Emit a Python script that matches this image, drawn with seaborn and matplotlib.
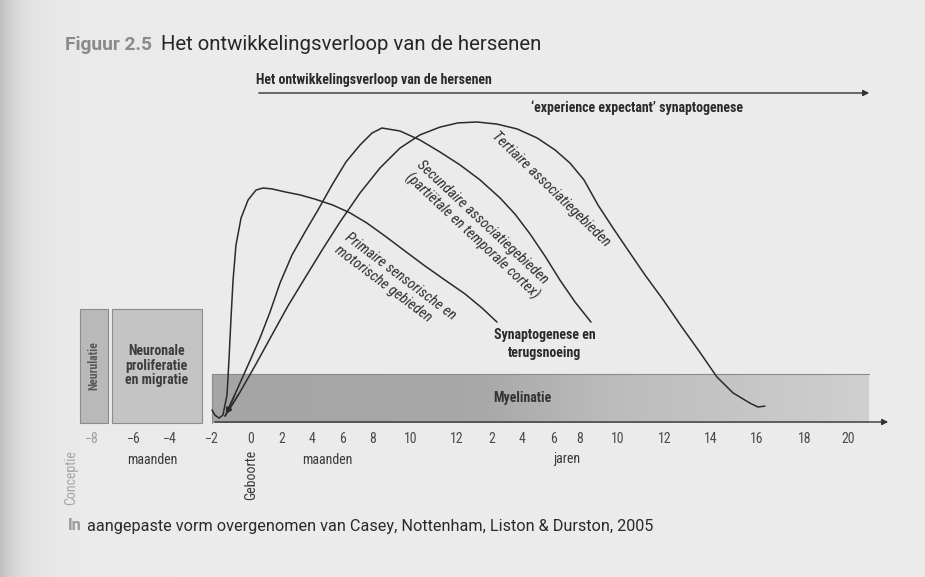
import numpy as np
import pandas as pd
import matplotlib
matplotlib.use('Agg')
import matplotlib.pyplot as plt
import seaborn as sns
from matplotlib import font_manager
from matplotlib.colors import LinearSegmentedColormap
from matplotlib.patches import Rectangle

# ---- data: age in months relative to birth, synapse level as drawn (0-100) ----
TICK_MONTHS = [-8, -6, -4, -2, 0, 2, 4, 6, 8, 10, 12, 24, 48, 72, 96, 120, 144, 168, 192, 216, 240]
TICK_LABELS = ['−8', '−6', '−4', '−2', '0', '2', '4', '6', '8', '10', '12',
               '2', '4', '6', '8', '10', '12', '14', '16', '18', '20']

PRIMARY_MONTHS = [-2.0, -1.85, -1.64, -1.44, -1.23, -1.13, -1.03, -0.92, -0.77, -0.51, -0.15,
                  0.32, 0.77, 1.35, 2.2, 3.2, 4.19, 5.35, 6.47, 7.6, 8.63, 9.68, 10.61, 11.48,
                  14.74, 20.57, 28.0]
PRIMARY_LEVEL = [3.0, 1.3, 0.3, 1.3, 8.0, 19.7, 33.0, 46.3, 58.0, 67.0, 73.0,
                 76.3, 77.0, 76.7, 75.7, 74.7, 73.3, 71.3, 68.7, 65.3, 61.0, 56.0, 51.0, 46.3,
                 41.7, 37.0, 32.3]

SECONDARY_MONTHS = [-1.33, -0.77, -0.15, 0.58, 1.23, 1.87, 2.67, 3.53, 4.39, 5.29, 6.2, 7.13,
                    7.93, 8.47, 9.42, 10.39, 11.26, 13.03, 19.89, 30.4, 42.4, 54.0, 65.25,
                    77.5, 91.4, 102.95]
SECONDARY_LEVEL = [1.0, 9.0, 18.0, 27.0, 35.7, 45.3, 54.7, 62.3, 69.7, 78.0, 85.7, 91.3,
                   95.3, 97.0, 96.0, 93.0, 89.0, 84.7, 79.7, 73.7, 68.3, 61.7, 54.3,
                   46.3, 39.0, 32.3]

TERTIARY_MONTHS = [-1.33, -0.56, 0.32, 1.35, 2.4, 3.53, 4.65, 5.81, 7.13, 8.37, 9.42, 10.39,
                   11.26, 12.34, 18.86, 28.0, 44.0, 59.25, 72.9, 86.8, 98.5, 107.4, 116.8,
                   125.1, 133.8, 143.1, 152.4, 161.7, 171.1, 179.5, 188.3, 192.5, 196.0]
TERTIARY_LEVEL = [1.0, 9.0, 18.3, 28.0, 37.7, 47.0, 56.3, 65.7, 75.3, 83.7, 90.3, 94.7,
                  97.3, 98.7, 99.0, 98.3, 96.7, 93.7, 89.7, 85.3, 79.7, 71.3, 63.7,
                  56.3, 48.0, 39.7, 31.0, 22.7, 14.0, 8.7, 5.3, 4.0, 4.3]

PHASE_NAMES = ['Neurulatie', 'Neuronale\nproliferatie\nen migratie', 'Myelinatie']
PHASE_START = [-8.57, -7.05, -2.0]
PHASE_END = [-7.24, -2.48, 252.0]
PHASE_TOP = [36.7, 36.7, 15.0]

# ---- layout: the drawn time axis is not to scale ----
AXIS_MONTHS = [-10] + TICK_MONTHS + [264]
AXIS_POS = [50, 92, 134, 170, 212, 251, 282, 312, 343, 373, 411, 457, 492, 522, 554, 580,
            618, 665, 711, 757, 805, 848, 891]
W, H = 925, 577


def forward(x):
    return np.interp(x, AXIS_MONTHS, AXIS_POS)


def inverse(x):
    return np.interp(x, AXIS_POS, AXIS_MONTHS)


sns.set_style('white')
available = {f.name for f in font_manager.fontManager.ttflist}
NARROW = next((f for f in ['Liberation Sans Narrow', 'Roboto Condensed', 'Roboto'] if f in available), 'DejaVu Sans')
REGULAR = 'Roboto' if 'Roboto' in available else 'DejaVu Sans'
plt.rcParams['font.family'] = [NARROW, 'DejaVu Sans']

fig = plt.figure(figsize=(W / 100, H / 100), dpi=100)
fig.patch.set_facecolor('#e9e9e9')

# page (scan) background
page = fig.add_axes([0, 0, 1, 1])
page.set_xlim(0, W)
page.set_ylim(H, 0)
page.axis('off')
shade = 0.918 - 0.17 * np.exp(-np.arange(W) / 20.0)
page.imshow(np.tile(shade, (10, 1)), cmap='gray', vmin=0, vmax=1, extent=(0, W, H, 0),
            aspect='auto', zorder=0)

page.text(65, 45, 'Figuur 2.5', family=REGULAR, fontweight='bold', color='#8a8a8a',
          fontsize=13.8, va='center')
page.text(161, 45, 'Het ontwikkelingsverloop van de hersenen', family=REGULAR,
          color='#262626', fontsize=14.7, va='center')
page.text(256, 80, 'Het ontwikkelingsverloop van de hersenen', fontweight='bold',
          color='#2a2a2a', fontsize=10, va='center')
page.annotate('', xy=(872, 93), xytext=(256, 93),
              arrowprops=dict(arrowstyle='-|>', lw=1.0, color='#333333', mutation_scale=9))
page.text(637, 108, '‘experience expectant’ synaptogenese', fontweight='bold',
          color='#2a2a2a', fontsize=10, va='center', ha='center')
page.text(68, 526, 'In', family=REGULAR, fontweight='bold', color='#9a9a9a',
          fontsize=11.7, va='center')
page.text(87, 526, 'aangepaste vorm overgenomen van Casey, Nottenham, Liston & Durston, 2005',
          family=REGULAR, color='#2a2a2a', fontsize=11.7, va='center')

# data axes
y_lo, y_hi = -3, 100
ax = fig.add_axes([AXIS_POS[0] / W, (H - 428) / H, (AXIS_POS[-1] - AXIS_POS[0]) / W, 309 / H])
ax.patch.set_alpha(0)
ax.set_xscale('function', functions=(forward, inverse))

bottom = -1.3
box_colors = ['#b9b9b9', '#c4c4c4']
for i in range(2):
    ax.add_patch(Rectangle((PHASE_START[i], bottom), PHASE_END[i] - PHASE_START[i],
                           PHASE_TOP[i] - bottom, facecolor=box_colors[i],
                           edgecolor='#8c8c8c', lw=0.8, zorder=1, clip_on=False))
ax.text((PHASE_START[0] + PHASE_END[0]) / 2, (PHASE_TOP[0] + bottom) / 2, PHASE_NAMES[0],
        rotation=90, ha='center', va='center', fontweight='bold', color='#5a5a5a',
        fontsize=8.5, zorder=3)
ax.text((PHASE_START[1] + PHASE_END[1]) / 2, (PHASE_TOP[1] + bottom) / 2, PHASE_NAMES[1],
        ha='center', va='center', fontweight='bold', color='#3c3c3c', fontsize=10,
        linespacing=1.05, zorder=3)

myel = LinearSegmentedColormap.from_list('myel', ['#a5a5a5', '#bdbdbd', '#d0d0d0'])
ax.imshow(np.linspace(0, 1, 256)[None, :], cmap=myel, aspect='auto', interpolation='bilinear',
          extent=(PHASE_START[2], PHASE_END[2], bottom, PHASE_TOP[2]), zorder=1)
ax.plot([PHASE_START[2], PHASE_END[2]], [PHASE_TOP[2], PHASE_TOP[2]], color='#8c8c8c', lw=0.8, zorder=1)
ax.plot([PHASE_START[2], PHASE_START[2]], [bottom, PHASE_TOP[2]], color='#8c8c8c', lw=0.8, zorder=1)
ax.text(48, (PHASE_TOP[2] + bottom) / 2, PHASE_NAMES[2], ha='center', va='center',
        fontweight='bold', color='#333333', fontsize=10, zorder=3)

# synaptogenesis curves
df = pd.concat([
    pd.DataFrame({'months': PRIMARY_MONTHS, 'level': PRIMARY_LEVEL, 'area': 'primair'}),
    pd.DataFrame({'months': SECONDARY_MONTHS, 'level': SECONDARY_LEVEL, 'area': 'secundair'}),
    pd.DataFrame({'months': TERTIARY_MONTHS, 'level': TERTIARY_LEVEL, 'area': 'tertiair'}),
], ignore_index=True)
sns.lineplot(data=df, x='months', y='level', hue='area', estimator=None, sort=False,
             palette=['#2b2b2b'] * 3, linewidth=1.1, legend=False, ax=ax, zorder=4)
for m, lv in [(SECONDARY_MONTHS, SECONDARY_LEVEL), (TERTIARY_MONTHS, TERTIARY_LEVEL)]:
    ax.annotate('', xy=(m[0], lv[0]), xytext=(m[1], lv[1]), annotation_clip=False,
                arrowprops=dict(arrowstyle='-|>', lw=1.0, color='#2b2b2b', mutation_scale=8))

lab = dict(ha='center', va='center', style='italic', color='#2e2e2e', fontsize=10.5,
           rotation_mode='anchor', multialignment='left', zorder=5)
ax.text(9.16, 45.3, 'Primaire sensorische en\nmotorische gebieden', rotation=-37, **lab)
ax.text(19.2, 63.0, 'Secundaire associatiegebieden\n(partiëtale en temporale cortex)', rotation=-43, **lab)
ax.text(69.75, 76.7, 'Tertiaire associatiegebieden', rotation=-44, **lab)
ax.text(65.25, 25.0, 'Synaptogenese en\nterugsnoeing', ha='center', va='center',
        fontweight='bold', color='#2a2a2a', fontsize=10, linespacing=1.3, zorder=5)

# time axis
ax.annotate('', xy=(AXIS_MONTHS[-1], -1.0), xytext=(PHASE_START[2], -1.0), annotation_clip=False,
            arrowprops=dict(arrowstyle='-|>', lw=1.0, color='#333333', mutation_scale=9))
ax.set_xticks(TICK_MONTHS, TICK_LABELS)
ax.tick_params(axis='x', length=0, pad=3, labelsize=10, labelcolor='#4a4a4a')
ax.get_xticklabels()[0].set_color('#a0a0a0')
ax.set_yticks([])
sns.despine(ax=ax, left=True, bottom=True)
ax.set_xlim(AXIS_MONTHS[0], AXIS_MONTHS[-1])
ax.set_ylim(y_lo, y_hi)
ax.set_xlabel('')
ax.set_ylabel('')

sub = dict(ha='center', va='center', color='#3a3a3a', fontsize=10, clip_on=False)
ax.text(-5, -13.7, 'maanden', **sub)
ax.text(5, -13.7, 'maanden', **sub)
ax.text(84, -13.2, 'jaren', **sub)
ax.text(-9, -10.3, 'Conceptie', rotation=90, ha='center', va='top', color='#a5a5a5',
        fontsize=10, clip_on=False)
ax.text(0, -10.3, 'Geboorte', rotation=90, ha='center', va='top', color='#3a3a3a',
        fontsize=10, clip_on=False)

fig.savefig('out.png', dpi=100, facecolor=fig.get_facecolor())
